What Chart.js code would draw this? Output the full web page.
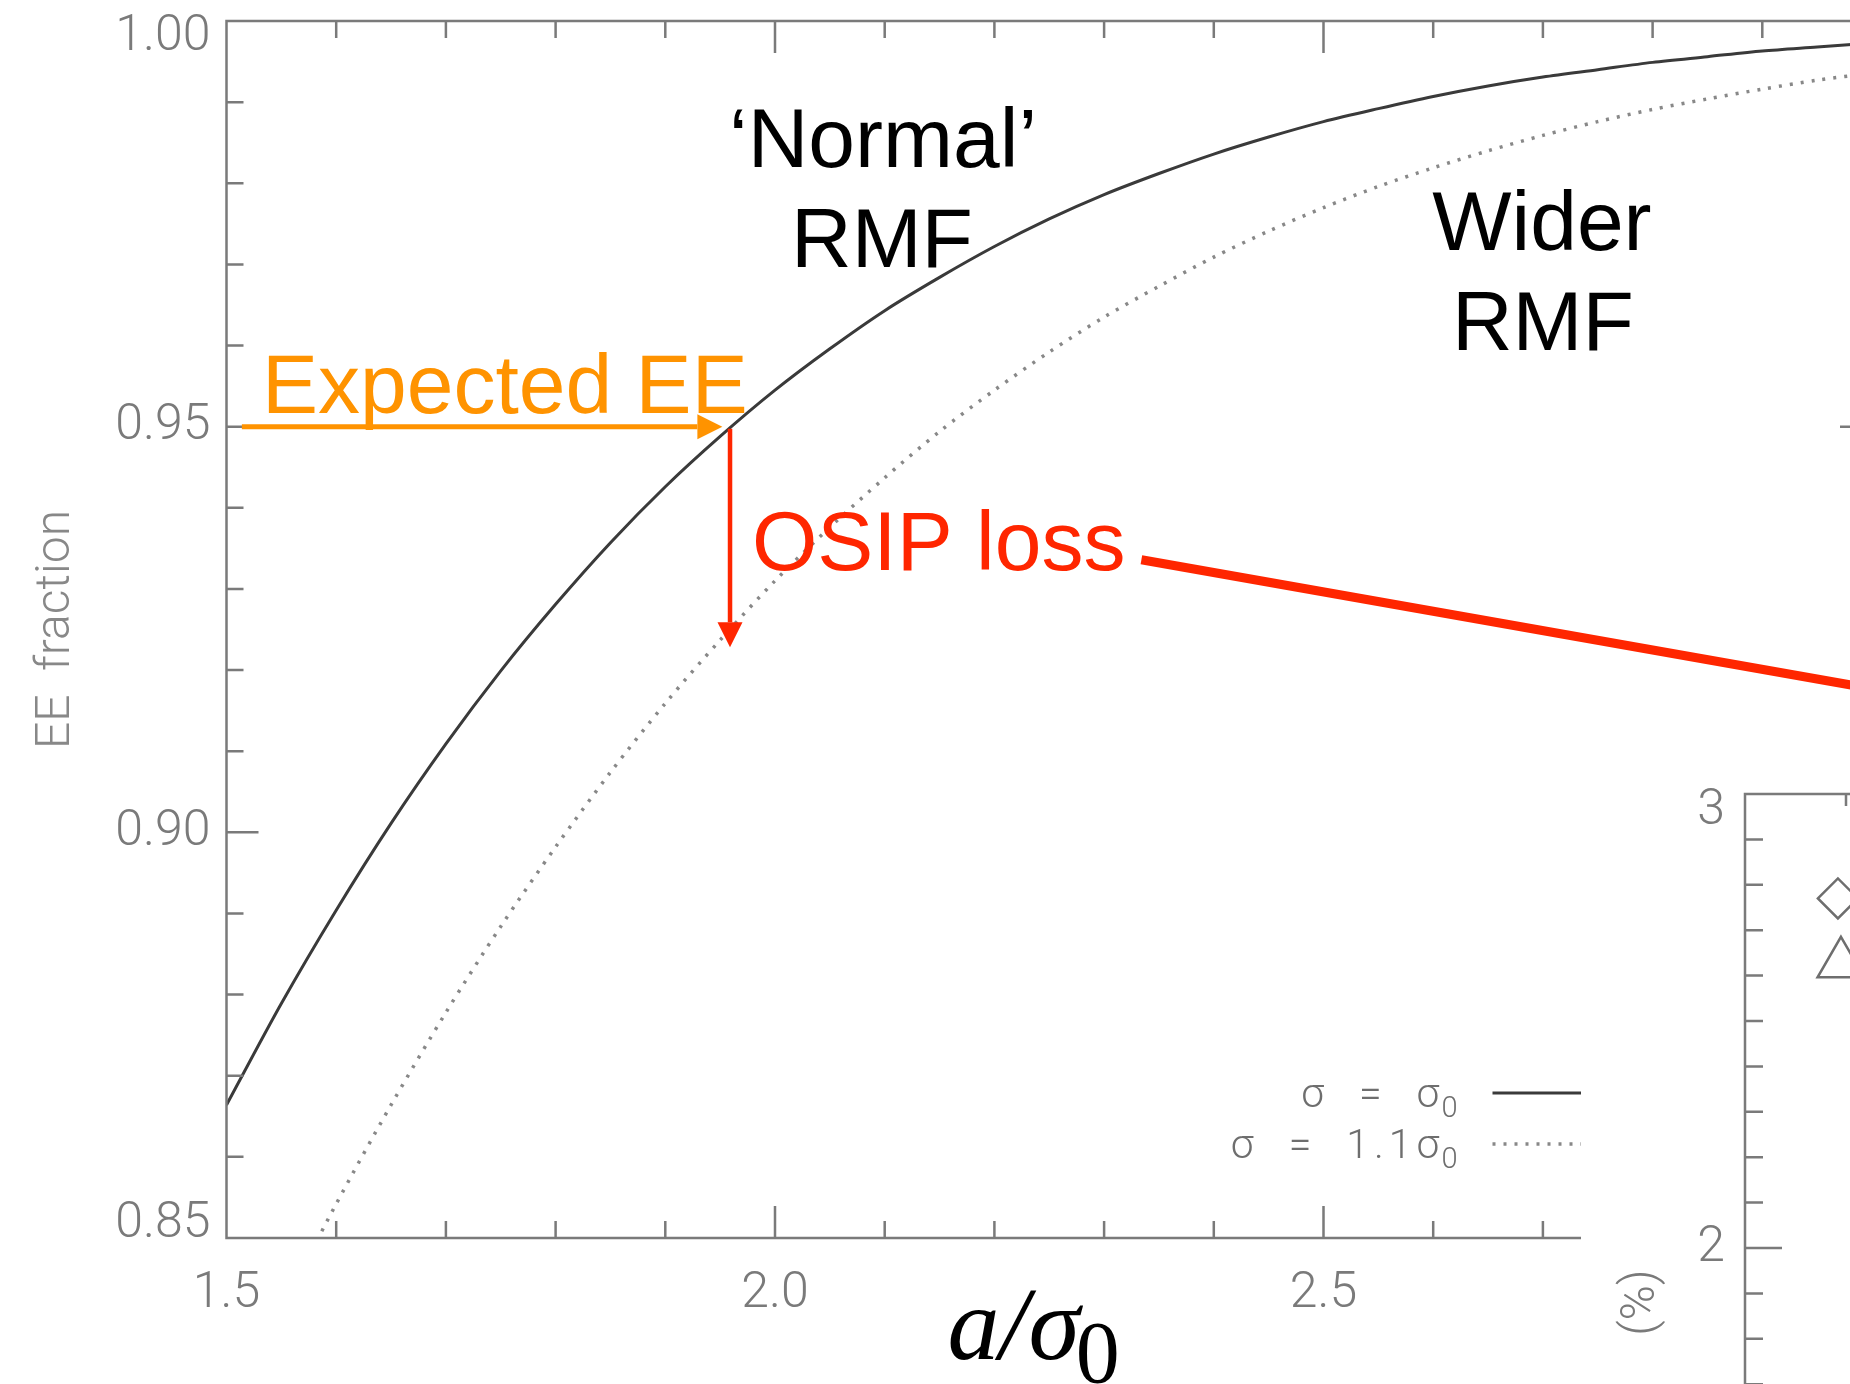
<!DOCTYPE html>
<html>
<head>
<meta charset="utf-8">
<title>EE fraction</title>
<script src="https://cdn.jsdelivr.net/npm/chart.js@4.4.1/dist/chart.umd.min.js"></script>
<style>
  html, body { margin: 0; padding: 0; overflow: hidden; background: #fff; }
  body { width: 1850px; height: 1384px; position: relative; }
  #main { position: absolute; left: 0; top: 0; }
  #inset { position: absolute; left: 1581px; top: 755px; background: #fff; }
</style>
</head>
<body>
<canvas id="main" width="1880" height="1384"></canvas>
<canvas id="inset" width="700" height="1000"></canvas>
<script>
// extraction half-width a, in units of the nominal width sigma0
const aRatio = [1.50, 1.55, 1.60, 1.65, 1.70, 1.75, 1.80, 1.85, 1.90, 1.95,
                2.00, 2.05, 2.10, 2.15, 2.20, 2.25, 2.30, 2.35, 2.40, 2.45,
                2.50, 2.55, 2.60, 2.65, 2.70, 2.75, 2.80, 2.85, 2.90, 2.95, 3.00];

// EE fraction, sigma = sigma0
const eeNominal = [0.8664, 0.8789, 0.8904, 0.9011, 0.9109, 0.9199, 0.9281, 0.9357, 0.9426, 0.9488,
                   0.9545, 0.9596, 0.9643, 0.9684, 0.9722, 0.9756, 0.9786, 0.9812, 0.9836, 0.9857,
                   0.9876, 0.9892, 0.9907, 0.9920, 0.9931, 0.9940, 0.9949, 0.9956, 0.9963, 0.9968, 0.9973];

// EE fraction, sigma = 1.1 sigma0
const eeWide = [null, 0.8412, 0.8542, 0.8664, 0.8778, 0.8884, 0.8982, 0.9074, 0.9159, 0.9237,
                0.9310, 0.9376, 0.9437, 0.9494, 0.9545, 0.9592, 0.9635, 0.9673, 0.9709, 0.9741,
                0.9770, 0.9796, 0.9819, 0.9840, 0.9859, 0.9876, 0.9891, 0.9904, 0.9916, 0.9927, 0.9936];

const seriesNames = ['σ  =  σ', 'σ  =  1.1σ'];

// inset panel: its two legend symbols
const markerStyle = ['rectRot', 'triangle'];
const markerX = [0.92, 0.95];
const markerY = [2.77, 2.626];

// annotation anchors (data units of the main panel)
const expectedEE = 0.95;
const arrowFromX = 1.514, arrowToX = 1.952;
const lossX = 1.959, lossToY = 0.9228;
const pointer = [2.334, 0.9336, 3.05, 0.9165];

const ORANGE = '#ff9300';
const RED = '#ff2600';
const GREY = '#7a7a7a';
const tickFont = { family: 'Roboto', size: 50, weight: '300' };

const notes = [
  { text: '‘Normal’', x: 2.0985, y: 0.9820, color: '#000', align: 'center' },
  { text: 'RMF', x: 2.0975, y: 0.9697, color: '#000', align: 'center' },
  { text: 'Wider', x: 2.6991, y: 0.9718, color: '#000', align: 'center' },
  { text: 'RMF', x: 2.7000, y: 0.9594, color: '#000', align: 'center' },
  { text: 'Expected EE', x: 1.5324, y: 0.9517, color: ORANGE, align: 'left' },
  { text: 'OSIP loss', x: 1.979, y: 0.9323, color: RED, align: 'left' },
];

const isMajor = (v, step) => Math.abs(v / step - Math.round(v / step)) < 1e-6;

// IDL-style box with inward major/minor ticks on all four sides,
// y labels pulled inside the range at the two ends
const frameTicks = {
  id: 'frameTicks',
  afterDatasetsDraw(chart, args, o) {
    const { ctx, chartArea: a, scales: { x, y } } = chart;
    ctx.save();
    ctx.strokeStyle = o.color;
    ctx.lineWidth = o.width;
    ctx.beginPath();
    ctx.rect(a.left, a.top, a.right - a.left, a.bottom - a.top);
    const nx = Math.round((x.max - x.min) / o.xMinor);
    for (let k = 0; k <= nx; k++) {
      const v = x.min + k * o.xMinor;
      const len = isMajor(v, o.xMajor) ? o.xMajorLen : o.xMinorLen;
      const p = x.getPixelForValue(v);
      ctx.moveTo(p, a.bottom); ctx.lineTo(p, a.bottom - len);
      ctx.moveTo(p, a.top); ctx.lineTo(p, a.top + len);
    }
    const ny = Math.round((y.max - y.min) / o.yMinor);
    for (let k = 0; k <= ny; k++) {
      const v = y.min + k * o.yMinor;
      const len = isMajor(v, o.yMajor) ? o.yMajorLen : o.yMinorLen;
      const p = y.getPixelForValue(v);
      ctx.moveTo(a.left, p); ctx.lineTo(a.left + len, p);
      ctx.moveTo(a.right, p); ctx.lineTo(a.right - len, p);
    }
    ctx.stroke();

    ctx.font = `${o.labelFont.weight} ${o.labelFont.size}px ${o.labelFont.family}`;
    ctx.fillStyle = o.color;
    ctx.textAlign = 'right';
    ctx.textBaseline = 'middle';
    y.ticks.forEach(t => {
      let p = y.getPixelForValue(t.value);
      if (Math.abs(t.value - y.max) < 1e-9) p += o.endShift[0];
      if (Math.abs(t.value - y.min) < 1e-9) p -= o.endShift[1];
      ctx.fillText(o.format(t.value), a.left - o.labelPad, p);
    });
    ctx.restore();
  }
};

function arrow(ctx, x0, y0, x1, y1, color, w) {
  const ang = Math.atan2(y1 - y0, x1 - x0), head = 25, half = 12.5;
  const bx = x1 - head * Math.cos(ang), by = y1 - head * Math.sin(ang);
  ctx.strokeStyle = color;
  ctx.fillStyle = color;
  ctx.lineWidth = w;
  ctx.beginPath(); ctx.moveTo(x0, y0); ctx.lineTo(bx, by); ctx.stroke();
  ctx.beginPath();
  ctx.moveTo(x1, y1);
  ctx.lineTo(bx - half * Math.sin(ang), by + half * Math.cos(ang));
  ctx.lineTo(bx + half * Math.sin(ang), by - half * Math.cos(ang));
  ctx.closePath();
  ctx.fill();
}

// arrows, labels, legend and the x title of the main panel
const eeNotes = {
  id: 'eeNotes',
  afterDraw(chart) {
    const { ctx, chartArea: a, scales: { x, y } } = chart;
    const px = v => x.getPixelForValue(v), py = v => y.getPixelForValue(v);
    ctx.save();

    arrow(ctx, px(arrowFromX), py(expectedEE), px(arrowToX), py(expectedEE), ORANGE, 5);
    arrow(ctx, px(lossX), py(expectedEE) + 2, px(lossX), py(lossToY), RED, 4.5);

    ctx.strokeStyle = RED;
    ctx.lineWidth = 9;
    ctx.lineCap = 'butt';
    ctx.beginPath();
    ctx.moveTo(px(pointer[0]), py(pointer[1]));
    ctx.lineTo(px(pointer[2]), py(pointer[3]));
    ctx.stroke();

    ctx.font = '84px "Liberation Sans", Arial, sans-serif';
    ctx.textBaseline = 'alphabetic';
    notes.forEach(n => {
      ctx.fillStyle = n.color;
      ctx.textAlign = n.align;
      ctx.fillText(n.text, px(n.x), py(n.y));
    });

    // legend, bottom right of the box
    const right = a.left + 1231, lineX0 = right + 35;
    chart.data.datasets.forEach((ds, i) => {
      const base = a.bottom - 131 + i * 51;
      ctx.font = '300 29px Roboto';
      ctx.letterSpacing = '0px';
      const subW = ctx.measureText('0').width;
      ctx.fillStyle = '#6e6e6e';
      ctx.textAlign = 'left';
      ctx.fillText('0', right - subW, base + 10);
      ctx.font = '300 41px Roboto';
      ctx.letterSpacing = '5px';
      ctx.textAlign = 'right';
      ctx.fillText(seriesNames[i], right - subW + 3, base);
      ctx.letterSpacing = '0px';
      ctx.strokeStyle = ds.borderColor;
      ctx.lineWidth = ds.borderWidth;
      ctx.setLineDash(ds.borderDash || []);
      ctx.beginPath();
      ctx.moveTo(lineX0, base - 14);
      ctx.lineTo(lineX0 + 120, base - 14);
      ctx.stroke();
      ctx.setLineDash([]);
    });

    // x title  a/σ0
    ctx.fillStyle = '#000';
    ctx.textAlign = 'left';
    ctx.font = 'italic 104px "Liberation Serif", serif';
    const tx = a.left + 721, tb = a.bottom + 121;
    ctx.fillText('a/σ', tx, tb);
    const w = ctx.measureText('a/σ').width;
    ctx.font = '88px "Liberation Serif", serif';
    ctx.fillText('0', tx + w - 4, tb + 23);

    ctx.restore();
  }
};

const toPoints = ys => aRatio.map((x, i) => ({ x, y: ys[i] }));

new Chart(document.getElementById('main'), {
  type: 'line',
  data: {
    datasets: [
      {
        label: 'σ = σ0',
        data: toPoints(eeNominal),
        borderColor: '#3a3a3a',
        borderWidth: 3,
        pointRadius: 0,
        tension: 0.3,
        fill: false,
      },
      {
        label: 'σ = 1.1σ0',
        data: toPoints(eeWide),
        borderColor: '#888888',
        borderWidth: 3.5,
        borderDash: [3, 8],
        pointRadius: 0,
        tension: 0.3,
        fill: false,
      },
    ]
  },
  options: {
    responsive: false,
    animation: false,
    layout: { padding: { left: 0, top: 21, right: 8, bottom: 0 } },
    scales: {
      x: {
        type: 'linear',
        min: 1.5,
        max: 3.0,
        grid: { display: false, drawTicks: false },
        border: { display: false },
        ticks: {
          stepSize: 0.5,
          padding: 26,
          color: GREY,
          font: tickFont,
          maxRotation: 0,
          autoSkip: false,
          callback: v => v.toFixed(1),
        },
        afterFit(s) { s.height = 146; s.paddingLeft = 0; s.paddingRight = 0; },
      },
      y: {
        min: 0.85,
        max: 1.0,
        grid: { display: false, drawTicks: false },
        border: { display: false },
        ticks: { stepSize: 0.05, display: false },
        title: {
          display: true,
          text: 'EE  fraction',
          color: '#888',
          font: { family: 'Roboto', size: 48, weight: '300' },
          padding: { top: 28, bottom: 0 },
        },
        afterFit(s) { s.width = 226.5; s.paddingTop = 0; s.paddingBottom = 0; },
      },
    },
    plugins: {
      legend: { display: false },
      tooltip: { enabled: false },
      frameTicks: {
        color: GREY, width: 2.5,
        xMinor: 0.1, xMajor: 0.5, xMinorLen: 17, xMajorLen: 32,
        yMinor: 0.01, yMajor: 0.05, yMinorLen: 17, yMajorLen: 32,
        labelFont: tickFont, labelPad: 16, endShift: [16, 14],
        format: v => v.toFixed(2),
      },
    },
  },
  plugins: [frameTicks, eeNotes],
});

// rotated y title of the inset panel
const insetTitle = {
  id: 'insetTitle',
  afterDraw(chart) {
    const { ctx, chartArea: a, scales: { y } } = chart;
    ctx.save();
    ctx.translate(a.left - 103, y.getPixelForValue(1.88));
    ctx.rotate(-Math.PI / 2);
    ctx.font = '300 48px Roboto';
    ctx.fillStyle = GREY;
    ctx.textAlign = 'center';
    ctx.textBaseline = 'middle';
    ctx.fillText('(%)', 0, 0);
    ctx.restore();
  }
};

new Chart(document.getElementById('inset'), {
  type: 'scatter',
  data: {
    datasets: markerStyle.map((st, i) => ({
      data: [{ x: markerX[i], y: markerY[i] }],
      pointStyle: st,
      pointRadius: i === 0 ? 20 : 27,
      borderColor: '#6e6e6e',
      borderWidth: 2.5,
      backgroundColor: 'rgba(0,0,0,0)',
    })),
  },
  options: {
    responsive: false,
    animation: false,
    layout: { padding: { left: 0, top: 39, right: 31, bottom: 0 } },
    scales: {
      x: {
        min: 0,
        max: 5,
        grid: { display: false, drawTicks: false },
        border: { display: false },
        ticks: { display: false },
        afterFit(s) { s.height = 53; s.paddingLeft = 0; s.paddingRight = 0; },
      },
      y: {
        min: 1,
        max: 3,
        grid: { display: false, drawTicks: false },
        border: { display: false },
        ticks: { stepSize: 1, display: false },
        afterFit(s) { s.width = 164; s.paddingTop = 0; s.paddingBottom = 0; },
      },
    },
    plugins: {
      legend: { display: false },
      tooltip: { enabled: false },
      frameTicks: {
        color: GREY, width: 2.5,
        xMinor: 1, xMajor: 5, xMinorLen: 12, xMajorLen: 24,
        yMinor: 0.1, yMajor: 1, yMinorLen: 18, yMajorLen: 37,
        labelFont: tickFont, labelPad: 20, endShift: [17, 0],
        format: v => String(v),
      },
    },
  },
  plugins: [frameTicks, insetTitle],
});
</script>
</body>
</html>
